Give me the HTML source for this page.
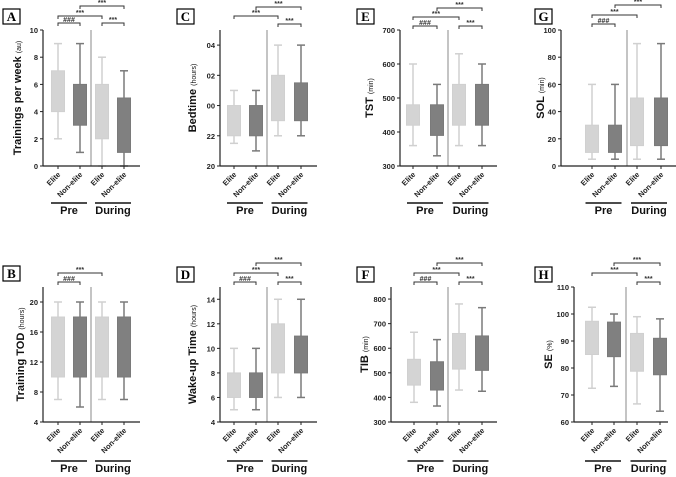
<!DOCTYPE html>
<html><head><meta charset="utf-8"><style>
html,body{margin:0;padding:0;background:#fff;}
svg{display:block;font-family:"Liberation Sans",sans-serif;}
</style></head><body>
<svg id="fig" width="676" height="477" viewBox="0 0 676 477" xmlns="http://www.w3.org/2000/svg"></svg>
<script>
// Box values: [whisker low, q1, q3, whisker high] per group (Elite-Pre, Non-elite-Pre, Elite-During, Non-elite-During)
const A_lo=[2,1,0,0], A_q1=[4,3,2,1], A_q3=[7,6,6,5], A_hi=[9,9,8,7];
const B_lo=[7,6,7,7], B_q1=[10,10,10,10], B_q3=[18,18,18,18], B_hi=[20,20,20,20];
const C_lo=[21.5,21,22,22], C_q1=[22,22,23,23], C_q3=[24,24,26,25.5], C_hi=[25,25,28,28];
const D_lo=[5,5,6,6], D_q1=[6,6,8,8], D_q3=[8,8,12,11], D_hi=[10,10,14,14];
const E_lo=[360,330,360,360], E_q1=[420,390,420,420], E_q3=[480,480,540,540], E_hi=[600,540,630,600];
const F_lo=[380,365,430,425], F_q1=[450,430,515,510], F_q3=[555,545,660,650], F_hi=[665,635,780,765];
const G_lo=[5,5,5,5], G_q1=[10,10,15,15], G_q3=[30,30,50,50], G_hi=[60,60,90,90];
const H_lo=[72.5,73.2,66.7,64], H_q1=[85,84.2,78.8,77.5], H_q3=[97.3,97,92.8,91], H_hi=[102.5,100,99,98.2];
const A_ticks=[0,2,4,6,8,10], A_tickLabels=["0","2","4","6","8","10"];
const B_ticks=[4,8,12,16,20], B_tickLabels=["4","8","12","16","20"];
const C_ticks=[20,22,24,26,28], C_tickLabels=["20","22","00","02","04"];
const D_ticks=[4,6,8,10,12,14], D_tickLabels=["4","6","8","10","12","14"];
const E_ticks=[300,400,500,600,700], E_tickLabels=["300","400","500","600","700"];
const F_ticks=[300,400,500,600,700,800], F_tickLabels=["300","400","500","600","700","800"];
const G_ticks=[0,20,40,60,80,100], G_tickLabels=["0","20","40","60","80","100"];
const H_ticks=[60,70,80,90,100,110], H_tickLabels=["60","70","80","90","100","110"];
const categories=["Elite","Non-elite","Elite","Non-elite"];
const groups=["Pre","During"];

const NS="http://www.w3.org/2000/svg";
const svg=document.getElementById('fig');
function mk(tag,attrs,parent){const e=document.createElementNS(NS,tag);for(const k in attrs)e.setAttribute(k,attrs[k]);(parent||svg).appendChild(e);return e;}

const panels=[
 {id:"A",lo:A_lo,q1:A_q1,q3:A_q3,hi:A_hi,ticks:A_ticks,tl:A_tickLabels,min:0,max:10,row:0,ax:43,c:[58,80,102,124],div:91,right:140,lab:[3,9],tx:21,title:"Trainings per week",unit:"(au)",
  br:[[0,1,23,"###"],[0,2,16,"***"],[1,3,6,"***"],[2,3,23,"***"]]},
 {id:"B",lo:B_lo,q1:B_q1,q3:B_q3,hi:B_hi,ticks:B_ticks,tl:B_tickLabels,min:4,max:22,row:1,ax:43,c:[58,80,102,124],div:91,right:140,lab:[3,266],tx:24,title:"Training TOD",unit:"(hours)",
  br:[[0,1,282,"###"],[0,2,273,"***"]]},
 {id:"C",lo:C_lo,q1:C_q1,q3:C_q3,hi:C_hi,ticks:C_ticks,tl:C_tickLabels,min:20,max:29,row:0,ax:220,c:[234,256,278,301],div:267,right:317,lab:[177,9],tx:196,title:"Bedtime",unit:"(hours)",
  br:[[0,2,16,"***"],[1,3,7,"***"],[2,3,24,"***"]]},
 {id:"D",lo:D_lo,q1:D_q1,q3:D_q3,hi:D_hi,ticks:D_ticks,tl:D_tickLabels,min:4,max:15,row:1,ax:220,c:[234,256,278,301],div:267,right:317,lab:[177,267],tx:196,title:"Wake-up Time",unit:"(hours)",
  br:[[0,1,282,"###"],[0,2,273,"***"],[1,3,263,"***"],[2,3,282,"***"]]},
 {id:"E",lo:E_lo,q1:E_q1,q3:E_q3,hi:E_hi,ticks:E_ticks,tl:E_tickLabels,min:300,max:700,row:0,ax:400,c:[413,437,459,482],div:448,right:497,lab:[357,9],tx:373,title:"TST",unit:"(min)",
  br:[[0,1,26,"###"],[0,2,17,"***"],[1,3,8,"***"],[2,3,26,"***"]]},
 {id:"F",lo:F_lo,q1:F_q1,q3:F_q3,hi:F_hi,ticks:F_ticks,tl:F_tickLabels,min:300,max:849,row:1,ax:391,c:[414,437,459,482],div:448,right:497,lab:[357,267],tx:368,title:"TIB",unit:"(min)",
  br:[[0,1,282,"###"],[0,2,273,"***"],[1,3,263,"***"],[2,3,282,"***"]]},
 {id:"G",lo:G_lo,q1:G_q1,q3:G_q3,hi:G_hi,ticks:G_ticks,tl:G_tickLabels,min:0,max:100,row:0,ax:561,c:[592,615,637,661],div:627,right:676,lab:[535,9],tx:544,title:"SOL",unit:"(min)",
  br:[[0,1,24,"###"],[0,2,15,"***"],[1,3,5,"***"]]},
 {id:"H",lo:H_lo,q1:H_q1,q3:H_q3,hi:H_hi,ticks:H_ticks,tl:H_tickLabels,min:60,max:110,row:1,ax:574,c:[592,614,637,660],div:626,right:668,lab:[535,267],tx:552,title:"SE",unit:"(%)",
  br:[[0,2,273,"***"],[1,3,263,"***"],[2,3,282,"***"]]}
];
const fills=["#d4d4d4","#808080","#d4d4d4","#808080"];
const strokes=["#d0d0d0","#7a7a7a","#d0d0d0","#7a7a7a"];

panels.forEach(p=>{
 const top=p.row?287:30, bot=p.row?422:166;
 const y=v=>bot-(v-p.min)/(p.max-p.min)*(bot-top);
 const g=mk('g',{});
 
 
 const lb=mk('rect',{x:p.lab[0],y:p.lab[1],width:17,height:15,fill:'#fff',stroke:'#000','stroke-width':1.2},g);
 
 
 const lt=mk('text',{x:p.lab[0]+8.5,y:p.lab[1]+12,'text-anchor':'middle','font-family':'"Liberation Serif",serif','font-weight':'bold','font-size':13},g);
 lt.textContent=p.id;
 
 
 const dv=mk('line',{x1:p.div,x2:p.div,y1:top,y2:bot,stroke:'#888','stroke-width':1},g);
 
 
 for(let i=0;i<4;i++){
  const cx=p.c[i], bw=13;
  const wl=mk('line',{x1:cx,x2:cx,y1:y(p.hi[i]),y2:y(p.lo[i]),stroke:strokes[i],'stroke-width':1.5},g);
  
  
  [p.hi[i],p.lo[i]].forEach(v=>{
   const cap=mk('line',{x1:cx-4,x2:cx+4,y1:y(v),y2:y(v),stroke:strokes[i],'stroke-width':1.5},g);
   
   
  });
  const b=mk('rect',{x:cx-bw/2,y:y(p.q3[i]),width:bw,height:Math.max(1,y(p.q1[i])-y(p.q3[i])),fill:fills[i],stroke:strokes[i],'stroke-width':1},g);
  
  
  const xl=mk('text',{transform:`translate(${cx+3},${bot+9}) rotate(-45)`,'text-anchor':'end','font-size':7.5,'font-weight':'bold',fill:'#222'},g);
  xl.textContent=categories[i];
  
  
 }
 const ya=mk('line',{x1:p.ax,x2:p.ax,y1:top,y2:bot,stroke:'#222','stroke-width':1.2},g);
 
 
 const xa=mk('line',{x1:p.ax,x2:p.right,y1:bot,y2:bot,stroke:'#222','stroke-width':1.2},g);
 
 
 p.c.forEach(cx=>{mk('line',{x1:cx,x2:cx,y1:bot,y2:bot+3,stroke:'#222','stroke-width':1},g);});
 p.ticks.forEach((t,k)=>{
  mk('line',{x1:p.ax-3,x2:p.ax,y1:y(t),y2:y(t),stroke:'#222','stroke-width':1},g);
  const tt=mk('text',{x:p.ax-5,y:y(t)+3,'text-anchor':'end','font-size':7.5,'font-weight':'bold',fill:'#222'},g);
  tt.textContent=p.tl[k];
  
  
 });
 const yt=mk('text',{transform:`translate(${p.tx},${(top+bot)/2}) rotate(-90)`,'text-anchor':'middle','font-size':11,'font-weight':'bold',fill:'#111'},g);
 
 
 const t1=mk('tspan',{},yt);t1.textContent=p.title+' ';
 const t2=mk('tspan',{'font-size':7,'font-weight':'normal'},yt);t2.textContent=p.unit;
 [[0,1],[2,3]].forEach((pair,gi)=>{
  const m=(p.c[pair[0]]+p.c[pair[1]])/2;
  const gy=p.row?461:203;
  const gl=mk('line',{x1:m-18,x2:m+18,y1:gy,y2:gy,stroke:'#111','stroke-width':1.5},g);
  
  
  const gt=mk('text',{x:m,y:gy+11,'text-anchor':'middle','font-size':11,'font-weight':'bold',fill:'#111'},g);
  gt.textContent=groups[gi];
  
  
 });
 p.br.forEach(b=>{
  const x1=p.c[b[0]],x2=p.c[b[1]],by=b[2];
  const pl=mk('path',{d:`M${x1},${by+3}V${by}H${x2}V${by+3}`,fill:'none',stroke:'#333','stroke-width':1},g);
  
  
  const st=mk('text',{x:(x1+x2)/2,y:by-1,'text-anchor':'middle','font-size':7,'font-weight':'bold',fill:'#333'},g);
  st.textContent=b[3];
  
  
 });
});
</script>
</body></html>
